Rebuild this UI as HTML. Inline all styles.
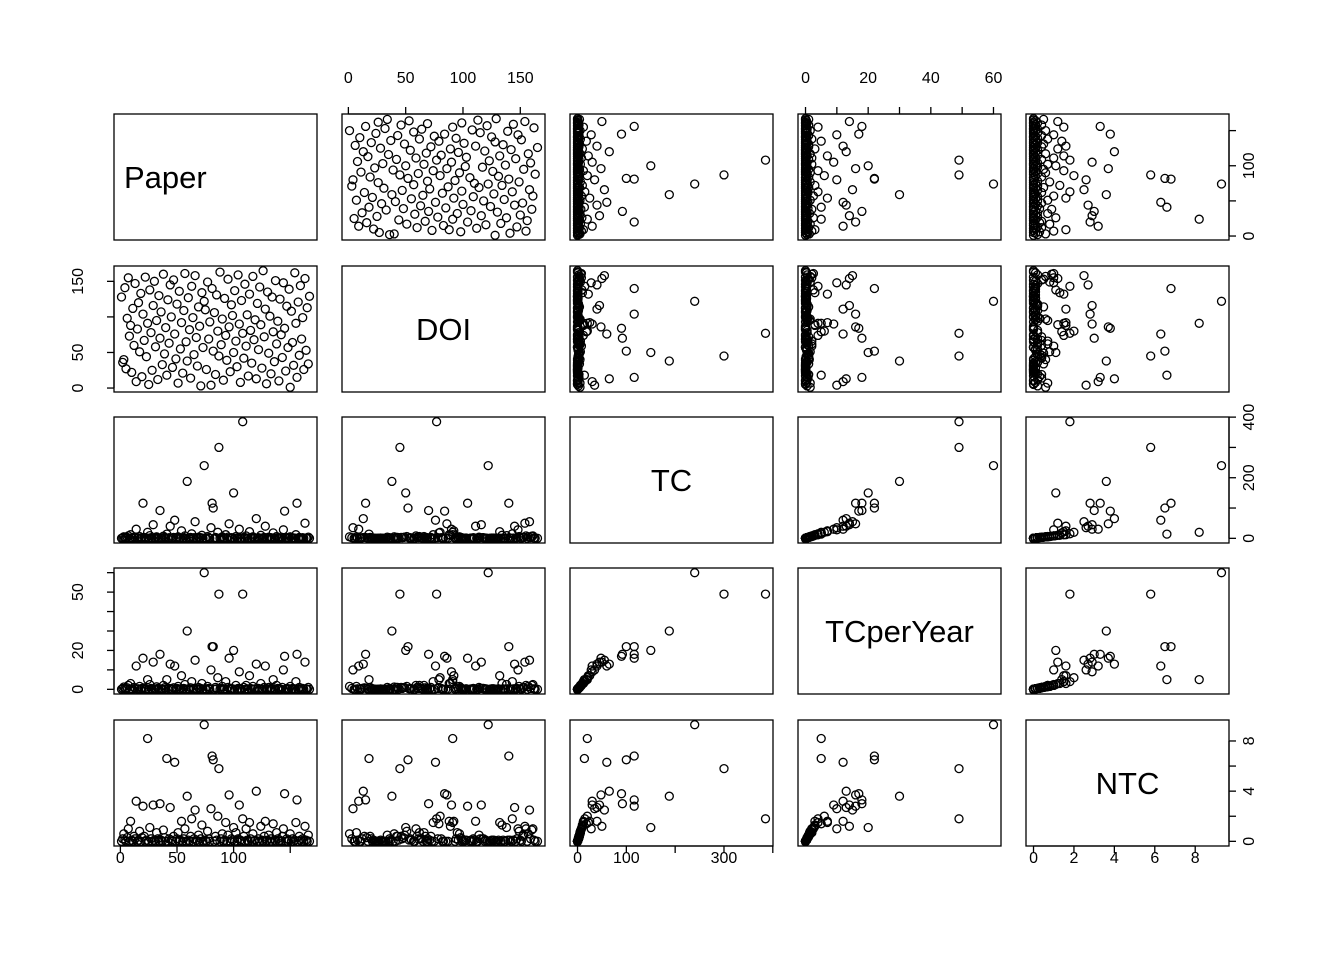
<!DOCTYPE html>
<html><head><meta charset="utf-8"><style>
html,body{margin:0;padding:0;background:#fff}
svg{display:block;font-family:"Liberation Sans",Arial,sans-serif}
</style></head><body>
<svg id="chart" width="1344" height="960" viewBox="0 0 1344 960" xmlns="http://www.w3.org/2000/svg"></svg>
<script>
const varNames = ["Paper","DOI","TC","TCperYear","NTC"];
const paper = Array.from({length:167},(_,i)=>i+1);
const doi = [128,36,40,141,27,98,155,73,88,22,112,60,147,9,83,120,51,133,16,104,67,156,44,91,5,138,78,25,116,150,58,95,12,130,70,107,33,160,48,85,18,124,63,145,100,29,152,76,41,118,7,136,55,92,21,109,161,65,38,127,82,14,143,99,47,158,71,31,114,87,3,134,57,122,110,26,149,69,93,4,140,52,106,19,131,80,45,163,61,97,11,126,74,39,153,86,23,117,102,50,137,66,30,159,90,8,123,77,42,146,59,103,17,132,81,35,157,68,96,13,119,54,142,89,28,165,72,111,6,135,49,101,20,128,79,37,151,62,94,10,125,75,43,148,84,24,115,57,139,1,108,64,32,162,91,15,121,46,144,69,99,26,154,53,113,34,129];
const tc = [0,2,5,1,0,3,8,0,12,1, 0,4,2,30,0,1,6,0,2,116, 3,0,1,20,0,9,2,0,45,1, 0,5,2,0,92,1,0,7,3,0, 14,0,2,40,1,0,3,60,0,2, 5,0,1,25,0,2,8,0,188,1, 0,3,15,0,2,55,1,0,4,0, 2,10,0,240,1,0,6,2,0,35, 116,100,0,3,1,20,300,0,2,5, 0,1,12,0,4,48,0,2,1,150, 0,6,0,2,30,1,0,385,3,0, 8,1,0,22,2,0,5,0,1,65, 0,2,0,10,1,0,3,40,0,1, 4,0,2,0,18,1,0,6,2,0, 1,0,3,28,90,0,2,0,1,5, 0,2,0,1,12,116,0,3,1,0, 2,0,50,1,0,4,0];
const tcy = [0,0.5,1.2,0.3,0,0.8,2,0,3,0.2, 0,1,0.5,12,0,0.3,1.5,0,0.5,16, 0.8,0,0.2,5,0,2.5,0.5,0,14,0.3, 0,1.3,0.5,0,18,0.2,0,2,0.8,0, 5,0,0.5,13,0.2,0,0.8,12,0,0.5, 1.5,0,0.3,7,0,0.5,2.5,0,30,0.3, 0,0.8,4,0,0.5,15,0.2,0,1,0, 0.5,3,0,60,0.3,0,1.5,0.5,0,10, 22,22,0,1,0.3,6,49,0,0.5,1.5, 0,0.3,4,0,1,16,0,0.5,0.2,20, 0,2,0,0.5,9,0.3,0,49,1,0, 2,0.3,0,7,0.5,0,1.5,0,0.3,13, 0,0.5,0,3,0.2,0,1,12,0,0.3, 1,0,0.5,0,5,0.3,0,2,0.5,0, 0.3,0,1,10,17,0,0.5,0,0.3,1.5, 0,0.5,0,0.3,4,18,0,1,0.3,0, 0.5,0,14,0.3,0,1,0];
const ntc = [0,0.2,0.6,0.1,0,0.3,1,0,1.6,0.1, 0,0.4,0.2,3.2,0,0.1,0.8,0,0.3,2.8, 0.4,0,0.1,8.2,0,1.1,0.2,0,2.9,0.1, 0,0.7,0.2,0,3,0.1,0,0.9,0.3,0, 6.6,0,0.2,2.7,0.1,0,0.4,6.3,0,0.2, 0.7,0,0.1,1.6,0,0.2,1,0,3.6,0.1, 0,0.4,1.8,0,0.2,2.5,0.1,0,0.5,0, 0.2,1.3,0,9.3,0.1,0,0.8,0.2,0,2.6, 6.8,6.5,0,0.4,0.1,2,5.8,0,0.2,0.6, 0,0.1,1.5,0,0.5,3.7,0,0.2,0.1,1.1, 0,0.7,0,0.2,2.9,0.1,0,1.8,0.4,0, 1,0.1,0,1.5,0.2,0,0.6,0,0.1,4, 0,0.2,0,1.2,0.1,0,0.4,1.6,0,0.1, 0.5,0,0.2,0,1.4,0.1,0,0.7,0.2,0, 0.1,0,0.4,1,3.8,0,0.2,0,0.1,0.6, 0,0.2,0,0.1,1.5,3.3,0,0.4,0.1,0, 0.2,0,1.2,0.1,0,0.5,0];
const tickVals = [[0,50,100,150],[0,50,100,150],[0,100,200,300,400],[0,10,20,30,40,50,60],[0,2,4,6,8]];
const tickLabelsX = [["0","50","100",""],["0","50","100","150"],["0","100","","300",""],["0","","20","","40","","60"],["0","2","4","6","8"]];
const tickLabelsY = [["0","","100",""],["0","50","","150"],["0","","200","","400"],["0","","20","","","50",""],["0","","4","","8"]];

const svg = document.getElementById('chart');
const NS = "http://www.w3.org/2000/svg";
const cols = [114,342,570,798,1026], rows = [114,266,417,568,720], W = 203, H = 126;
const data = [paper,doi,tc,tcy,ntc];
const n = Math.min(...data.map(a=>a.length));
function ext(a){let mn=Math.min(...a.slice(0,n)),mx=Math.max(...a.slice(0,n));const p=(mx-mn)*0.04;return [mn-p,mx+p];}
const rng = data.map(ext);
function sx(j,v){const [a,b]=rng[j];return cols[j]+(v-a)/(b-a)*W;}
function sy(i,v){const [a,b]=rng[i];return rows[i]+H-(v-a)/(b-a)*H;}
function mk(tag,attrs,parent){const e=document.createElementNS(NS,tag);for(const k in attrs)e.setAttribute(k,attrs[k]);(parent||svg).appendChild(e);return e;}

for(let i=0;i<5;i++){for(let j=0;j<5;j++){
  const g=mk('g',{});
  
  
  const r=mk('rect',{x:cols[j],y:rows[i],width:W,height:H,fill:'none',stroke:'#000','stroke-width':1.3},g);
  
  
  if(i===j){
    const t=mk('text',{x:i===0?124:cols[j]+W/2,y:rows[i]+H/2+11,'font-size':31,'text-anchor':i===0?'start':'middle'},g);
    t.textContent=varNames[i];
    
    
  } else {
    for(let k=0;k<n;k++){
      const c=mk('circle',{cx:sx(j,data[j][k]).toFixed(1),cy:sy(i,data[i][k]).toFixed(1),r:4,fill:'none',stroke:'#000','stroke-width':1.3},g);
      
      
    }
  }
}}
// x axes
for(let j=0;j<5;j++){
  const top = (j%2===1);
  const yEdge = top?rows[0]:rows[4]+H, d = top?-7:7;
  const g=mk('g',{});
  
  
  const tv=tickVals[j].filter(v=>v>=rng[j][0]&&v<=rng[j][1]);
  mk('line',{x1:sx(j,tv[0]),x2:sx(j,tv[tv.length-1]),y1:yEdge,y2:yEdge,stroke:'#000','stroke-width':1.3},g);
  tickVals[j].forEach((v,k)=>{
    if(v<rng[j][0]||v>rng[j][1])return;
    const x=sx(j,v);
    mk('line',{x1:x,x2:x,y1:yEdge,y2:yEdge+d,stroke:'#000','stroke-width':1.3},g);
    const lab=tickLabelsX[j][k];
    if(lab){const t=mk('text',{x:x,y:top?83:863,'font-size':16,'text-anchor':'middle'},g);t.textContent=lab;
      
      }
  });
}
// y axes
for(let i=0;i<5;i++){
  const right=(i%2===0);
  const xEdge=right?cols[4]+W:cols[0], d=right?7:-7;
  const g=mk('g',{});
  
  
  const tv=tickVals[i].filter(v=>v>=rng[i][0]&&v<=rng[i][1]);
  mk('line',{x1:xEdge,x2:xEdge,y1:sy(i,tv[0]),y2:sy(i,tv[tv.length-1]),stroke:'#000','stroke-width':1.3},g);
  tickVals[i].forEach((v,k)=>{
    if(v<rng[i][0]||v>rng[i][1])return;
    const y=sy(i,v);
    mk('line',{x1:xEdge,x2:xEdge+d,y1:y,y2:y,stroke:'#000','stroke-width':1.3},g);
    const lab=tickLabelsY[i][k];
    if(lab){const lx=right?1254:83;
      const t=mk('text',{x:lx,y:y,'font-size':16,'text-anchor':'middle',transform:`rotate(-90 ${lx} ${y})`},g);t.textContent=lab;
      
      }
  });
}
</script>
</body></html>
